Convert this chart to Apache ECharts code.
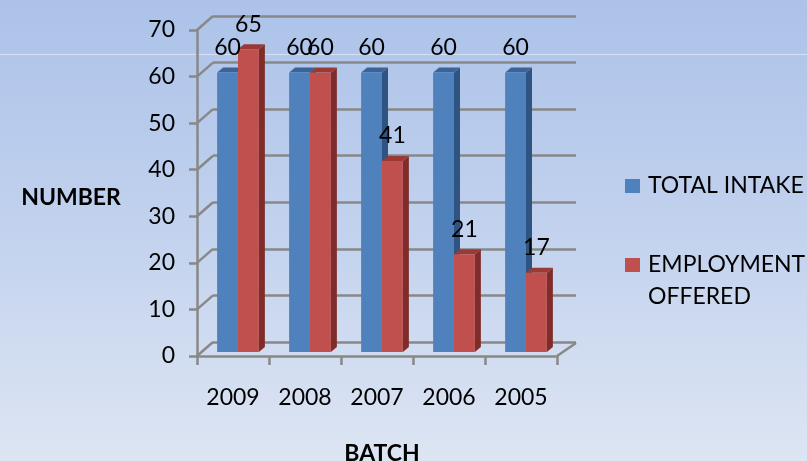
<!DOCTYPE html>
<html>
<head>
<meta charset="utf-8">
<script src="https://cdn.jsdelivr.net/npm/echarts@6/dist/echarts.min.js"></script>
<style>
  html, body { margin: 0; padding: 0; }
  #main { width: 807px; height: 461px; }
</style>
</head>
<body>
<div id="main"></div>
<script>
const batches = ['2009', '2008', '2007', '2006', '2005']
const totalIntake = [60, 60, 60, 60, 60]
const employmentOffered = [65, 60, 41, 21, 17]
const yTicks = [0, 10, 20, 30, 40, 50, 60, 70]

const FONT = 'Lato'
const GRID_COLOR = '#888888'
// depth of the back wall and of each bar (px)
const WALL_DX = 16
const WALL_DY = 14
const BAR_DX = 6
const BAR_DY = 5

const colors = {
  blue: { front: '#4F81BD', side: '#2F5482', top: '#3A6499' },
  red: { front: '#C0504D', side: '#7E2D2B', top: '#9A3A37' }
}

function barRender(scheme, offsetSign) {
  return function(params, api) {
    const idx = api.value(0)
    const val = api.value(1)
    const band = api.size([1, 0])[0]
    const w = band * 0.29
    const top = api.coord([idx, val])
    const base = api.coord([idx, 0])
    const x = offsetSign < 0 ? top[0] - w : top[0]
    const y = top[1]
    const b = base[1]
    return {
      type: 'group',
      children: [
        {
          type: 'polygon',
          shape: { points: [[x + w, y], [x + w + BAR_DX, y - BAR_DY], [x + w + BAR_DX, b - BAR_DY], [x + w, b]] },
          style: { fill: scheme.side }
        },
        {
          type: 'polygon',
          shape: { points: [[x, y], [x + BAR_DX, y - BAR_DY], [x + w + BAR_DX, y - BAR_DY], [x + w, y]] },
          style: { fill: scheme.top }
        },
        {
          type: 'rect',
          shape: { x: x, y: y, width: w, height: b - y },
          style: { fill: scheme.front }
        },
        {
          type: 'text',
          style: {
            text: String(val),
            x: x + w / 2,
            y: y - 25,
            align: 'center',
            verticalAlign: 'middle',
            fill: '#000',
            font: '23px ' + FONT
          },
          z2: 10
        }
      ]
    }
  }
}

const myChart = echarts.init(document.getElementById('main'))

const option = {
  backgroundColor: {
    type: 'linear', x: 0, y: 0, x2: 0, y2: 1,
    colorStops: [
      { offset: 0, color: '#ACC2E9' },
      { offset: 0.5, color: '#C2D2EE' },
      { offset: 1, color: '#DDE5F3' }
    ]
  },
  graphic: [
    {
      type: 'rect',
      shape: { x: 0, y: 54, width: 807, height: 1 },
      style: { fill: 'rgba(255,255,255,0.45)' },
      silent: true
    }
  ],
  title: [
    {
      text: 'NUMBER',
      left: 66, top: 193,
      textAlign: 'center', textVerticalAlign: 'middle',
      textStyle: { fontFamily: FONT, fontWeight: 'bold', fontSize: 23, color: '#000' }
    },
    {
      text: 'BATCH',
      left: 377, top: 449,
      textAlign: 'center', textVerticalAlign: 'middle',
      textStyle: { fontFamily: FONT, fontWeight: 'bold', fontSize: 23, color: '#000' }
    }
  ],
  legend: [
    {
      data: ['TOTAL INTAKE'],
      left: 625, top: 172,
      padding: 0,
      itemWidth: 15, itemHeight: 14,
      icon: 'rect',
      selectedMode: false,
      textStyle: { fontFamily: FONT, fontSize: 23, color: '#000', lineHeight: 28, padding: [0, 0, 0, 3] }
    },
    {
      data: ['EMPLOYMENT OFFERED'],
      left: 625, top: 217,
      padding: 0,
      itemWidth: 15, itemHeight: 14,
      icon: 'rect',
      selectedMode: false,
      // empty first line keeps the icon level with the first word
      formatter: function(name) { return '\n' + name.replace(' ', '\n') },
      textStyle: { fontFamily: FONT, fontSize: 23, color: '#000', lineHeight: 32, padding: [0, 0, 0, 3] }
    }
  ],
  grid: [
    // front axes
    { left: 197, top: 30, width: 360, height: 326 },
    // back wall
    { left: 197 + WALL_DX, top: 30 - WALL_DY, width: 363, height: 326 },
    // bars (mid depth)
    { left: 202, top: 26, width: 360, height: 326 }
  ],
  xAxis: [
    {
      gridIndex: 0, type: 'category', data: batches,
      axisLine: { lineStyle: { color: GRID_COLOR, width: 2.5 } },
      axisTick: { show: true, length: 9, lineStyle: { color: GRID_COLOR, width: 2.5 } },
      axisLabel: { margin: 30, fontFamily: FONT, fontSize: 23, color: '#000' }
    },
    {
      gridIndex: 1, type: 'category', data: batches, show: false
    },
    {
      gridIndex: 2, type: 'category', data: batches, show: false
    }
  ],
  yAxis: [
    {
      gridIndex: 0, type: 'value', min: 0, max: 70, interval: 10,
      axisLine: { show: true, lineStyle: { color: GRID_COLOR, width: 2.5 } },
      axisTick: { show: true, length: 8, lineStyle: { color: GRID_COLOR, width: 2.5 } },
      axisLabel: { margin: 22, fontFamily: FONT, fontSize: 23, color: '#000' },
      splitLine: { show: false }
    },
    {
      gridIndex: 1, type: 'value', min: 0, max: 70, interval: 10,
      axisLine: { show: false }, axisTick: { show: false }, axisLabel: { show: false },
      splitLine: { show: true, showMinLine: true, showMaxLine: true, lineStyle: { color: GRID_COLOR, width: 2.5 } }
    },
    {
      gridIndex: 2, type: 'value', min: 0, max: 70, interval: 10, show: false
    }
  ],
  series: [
    {
      name: 'wall-left',
      type: 'custom',
      xAxisIndex: 0, yAxisIndex: 0,
      silent: true,
      clip: false,
      data: yTicks.map(v => [0, v]),
      renderItem: function(params, api) {
        const cs = params.coordSys
        const y = api.coord([0, api.value(1)])[1]
        return {
          type: 'line',
          shape: { x1: cs.x, y1: y, x2: cs.x + WALL_DX, y2: y - WALL_DY },
          style: { stroke: GRID_COLOR, lineWidth: 2.5 }
        }
      }
    },
    {
      name: 'wall-right',
      type: 'custom',
      xAxisIndex: 0, yAxisIndex: 0,
      silent: true,
      clip: false,
      data: [[batches.length - 1, 0]],
      renderItem: function(params, api) {
        const cs = params.coordSys
        const y = api.coord([0, 0])[1]
        return {
          type: 'line',
          shape: { x1: cs.x + cs.width, y1: y, x2: cs.x + cs.width + WALL_DX + 3, y2: y - WALL_DY + 1 },
          style: { stroke: GRID_COLOR, lineWidth: 2.5 }
        }
      }
    },
    {
      name: 'TOTAL INTAKE',
      type: 'custom',
      xAxisIndex: 2, yAxisIndex: 2,
      clip: false,
      itemStyle: { color: colors.blue.front },
      data: totalIntake.map((v, i) => [i, v]),
      renderItem: barRender(colors.blue, -1),
      z: 3
    },
    {
      name: 'EMPLOYMENT OFFERED',
      type: 'custom',
      xAxisIndex: 2, yAxisIndex: 2,
      clip: false,
      itemStyle: { color: colors.red.front },
      data: employmentOffered.map((v, i) => [i, v]),
      renderItem: barRender(colors.red, 1),
      z: 3
    }
  ]
}

myChart.setOption(option)
</script>
</body>
</html>
